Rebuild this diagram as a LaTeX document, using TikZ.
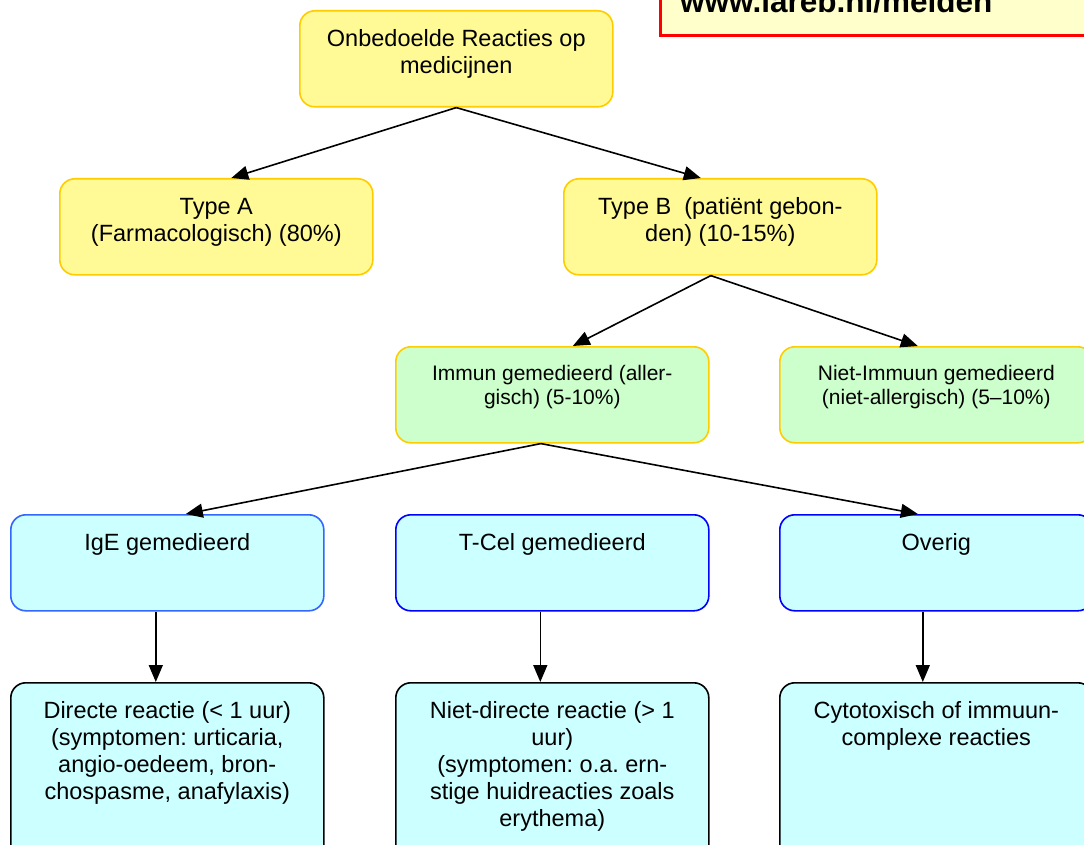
\documentclass[tikz,border=0pt]{standalone}
\usepackage{fontspec}
\setmainfont{Liberation Sans}
\usetikzlibrary{arrows.meta}
\frenchspacing
\definecolor{ylfill}{HTML}{FFFA96}
\definecolor{goldline}{HTML}{FFCC00}
\definecolor{grfill}{HTML}{CCFFCC}
\definecolor{cyfill}{HTML}{CCFFFF}
\definecolor{ltblue}{HTML}{3366FF}
\definecolor{dkblue}{HTML}{0000FF}
\definecolor{notefill}{HTML}{FFFFCC}
\newcommand\bxc[2][96pt]{\parbox[c][#1][t]{313pt}{\centering\vspace*{17pt}\strut #2\par}}
\tikzset{
  box/.style={rounded corners=15pt, line width=1.6pt, inner sep=0pt, anchor=north west,
    font=\fontsize{23.5}{27}\selectfont},
  yel/.style={box, draw=goldline, fill=ylfill},
  grn/.style={box, draw=goldline, fill=grfill, font=\fontsize{21}{24}\selectfont},
  cyl/.style={box, draw=ltblue, fill=cyfill},
  cyd/.style={box, draw=dkblue, fill=cyfill},
  cyk/.style={box, draw=black, fill=cyfill},
  arr/.style={line width=1.6pt, -{Triangle[length=17pt,width=14pt]}}
}
\begin{document}
\begin{tikzpicture}[x=1pt,y=-1pt]
\clip (0,0) rectangle (1084,845);
\fill[white] (0,0) rectangle (1084,845);
% note box
\node (note) [anchor=north west, draw=red, line width=3pt, fill=notefill, minimum width=450pt, minimum height=74pt, inner sep=0pt] at (659,-40) {};
\node (url) [anchor=base west, inner sep=0pt, font=\fontsize{31.5}{36}\selectfont\bfseries] at (680,13) {www.lareb.nl/melden};
% boxes
\node (top) [yel] at (299,10) {\bxc{Onbedoelde Reacties op\\medicijnen}};
\node (typeA) [yel] at (59,178) {\bxc{Type A\\(Farmacologisch) (80\%)}};
\node (typeB) [yel] at (563,178) {\bxc{Type B\ \ (patiënt gebon-\\den) (10-15\%)}};
\node (immun) [grn] at (395,346) {\bxc{Immun gemedieerd (aller-\\gisch) (5-10\%)}};
\node (niet) [grn] at (779,346) {\bxc{Niet-Immuun gemedieerd\\(niet-allergisch) (5--10\%)}};
\node (ige) [cyl] at (10,514) {\bxc{IgE gemedieerd}};
\node (tcel) [cyd] at (395,514) {\bxc{T-Cel gemedieerd}};
\node (overig) [cyd] at (779,514) {\bxc{Overig}};
\node (direct) [cyk] at (10,682) {\bxc[190pt]{Directe reactie (< 1 uur)\\(symptomen: urticaria,\\angio-oedeem, bron-\\chospasme, anafylaxis)}};
\node (nietdir) [cyk] at (395,682) {\bxc[190pt]{Niet-directe reactie (> 1\\uur)\\(symptomen: o.a. ern-\\stige huidreacties zoals\\erythema)}};
\node (cyto) [cyk] at (779,682) {\bxc[190pt]{Cytotoxisch of immuun-\\complexe reacties}};
% connectors
\draw[arr] (top.south) -- ([xshift=15pt]typeA.north);
\draw[arr] (top.south) -- ([xshift=-19.5pt]typeB.north);
\draw[arr] ([xshift=-9.5pt]typeB.south) -- ([xshift=20.5pt]immun.north);
\draw[arr] ([xshift=-9.5pt]typeB.south) -- ([xshift=-18.5pt]niet.north);
\draw[arr] ([xshift=-11.5pt]immun.south) -- ([xshift=18.5pt]ige.north);
\draw[arr] ([xshift=-11.5pt]immun.south) -- ([xshift=-18.5pt]overig.north);
\draw[arr] ([xshift=-11.5pt]ige.south) -- ([xshift=-11.5pt]direct.north);
\draw[arr] ([xshift=-12pt]tcel.south) -- ([xshift=-12pt]nietdir.north);
\draw[arr] ([xshift=-13.5pt]overig.south) -- ([xshift=-13.5pt]cyto.north);
\end{tikzpicture}
\end{document}
